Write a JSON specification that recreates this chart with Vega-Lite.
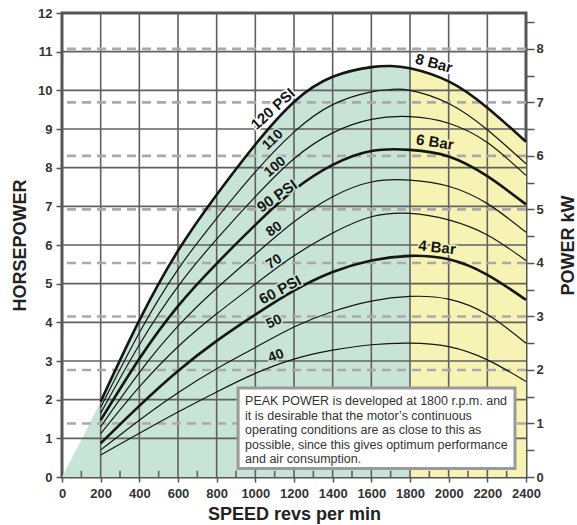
{
  "$schema": "https://vega.github.io/schema/vega-lite/v6.json",
  "width": 464,
  "height": 464,
  "autosize": {"type": "none"},
  "padding": {"left": 62, "top": 13, "right": 51, "bottom": 48},
  "background": "white",
  "config": {
    "view": {"stroke": "#555", "strokeWidth": 3},
    "font": "Liberation Sans",
    "axis": {"labelOverlap": false, "labelFlush": false, "labelBound": false}
  },
  "datasets": {
    "curves": [
      {"psi":120,"rpm":200,"hp":1.95},{"psi":120,"rpm":400,"hp":4.05},{"psi":120,"rpm":600,"hp":5.85},{"psi":120,"rpm":800,"hp":7.3},{"psi":120,"rpm":1000,"hp":8.6},{"psi":120,"rpm":1200,"hp":9.7},{"psi":120,"rpm":1400,"hp":10.35},{"psi":120,"rpm":1600,"hp":10.6},{"psi":120,"rpm":1700,"hp":10.63},{"psi":120,"rpm":1800,"hp":10.57},{"psi":120,"rpm":2000,"hp":10.23},{"psi":120,"rpm":2200,"hp":9.55},{"psi":120,"rpm":2400,"hp":8.67},
      {"psi":110,"rpm":200,"hp":1.8},{"psi":110,"rpm":400,"hp":3.73},{"psi":110,"rpm":600,"hp":5.37},{"psi":110,"rpm":800,"hp":6.69},{"psi":110,"rpm":1000,"hp":7.89},{"psi":110,"rpm":1200,"hp":8.92},{"psi":110,"rpm":1400,"hp":9.63},{"psi":110,"rpm":1600,"hp":9.96},{"psi":110,"rpm":1700,"hp":10.02},{"psi":110,"rpm":1800,"hp":10.0},{"psi":110,"rpm":2000,"hp":9.66},{"psi":110,"rpm":2200,"hp":8.98},{"psi":110,"rpm":2400,"hp":8.1},
      {"psi":100,"rpm":200,"hp":1.65},{"psi":100,"rpm":400,"hp":3.42},{"psi":100,"rpm":600,"hp":4.93},{"psi":100,"rpm":800,"hp":6.15},{"psi":100,"rpm":1000,"hp":7.25},{"psi":100,"rpm":1200,"hp":8.23},{"psi":100,"rpm":1400,"hp":8.9},{"psi":100,"rpm":1600,"hp":9.25},{"psi":100,"rpm":1800,"hp":9.32},{"psi":100,"rpm":2000,"hp":9.15},{"psi":100,"rpm":2200,"hp":8.65},{"psi":100,"rpm":2400,"hp":7.8},
      {"psi":90,"rpm":200,"hp":1.47},{"psi":90,"rpm":400,"hp":3.06},{"psi":90,"rpm":600,"hp":4.42},{"psi":90,"rpm":800,"hp":5.52},{"psi":90,"rpm":1000,"hp":6.52},{"psi":90,"rpm":1200,"hp":7.42},{"psi":90,"rpm":1400,"hp":8.07},{"psi":90,"rpm":1600,"hp":8.43},{"psi":90,"rpm":1800,"hp":8.46},{"psi":90,"rpm":2000,"hp":8.29},{"psi":90,"rpm":2200,"hp":7.78},{"psi":90,"rpm":2400,"hp":7.05},
      {"psi":80,"rpm":200,"hp":1.3},{"psi":80,"rpm":400,"hp":2.7},{"psi":80,"rpm":600,"hp":3.9},{"psi":80,"rpm":800,"hp":4.88},{"psi":80,"rpm":1000,"hp":5.76},{"psi":80,"rpm":1200,"hp":6.6},{"psi":80,"rpm":1400,"hp":7.25},{"psi":80,"rpm":1600,"hp":7.63},{"psi":80,"rpm":1800,"hp":7.68},{"psi":80,"rpm":2000,"hp":7.52},{"psi":80,"rpm":2200,"hp":7.07},{"psi":80,"rpm":2400,"hp":6.33},
      {"psi":70,"rpm":200,"hp":1.12},{"psi":70,"rpm":400,"hp":2.33},{"psi":70,"rpm":600,"hp":3.37},{"psi":70,"rpm":800,"hp":4.22},{"psi":70,"rpm":1000,"hp":4.99},{"psi":70,"rpm":1200,"hp":5.72},{"psi":70,"rpm":1400,"hp":6.31},{"psi":70,"rpm":1600,"hp":6.73},{"psi":70,"rpm":1800,"hp":6.82},{"psi":70,"rpm":2000,"hp":6.65},{"psi":70,"rpm":2200,"hp":6.26},{"psi":70,"rpm":2400,"hp":5.6},
      {"psi":60,"rpm":200,"hp":0.87},{"psi":60,"rpm":400,"hp":1.84},{"psi":60,"rpm":600,"hp":2.74},{"psi":60,"rpm":800,"hp":3.52},{"psi":60,"rpm":1000,"hp":4.2},{"psi":60,"rpm":1200,"hp":4.82},{"psi":60,"rpm":1400,"hp":5.3},{"psi":60,"rpm":1600,"hp":5.6},{"psi":60,"rpm":1800,"hp":5.72},{"psi":60,"rpm":2000,"hp":5.63},{"psi":60,"rpm":2200,"hp":5.23},{"psi":60,"rpm":2400,"hp":4.58},
      {"psi":50,"rpm":200,"hp":0.7},{"psi":50,"rpm":400,"hp":1.47},{"psi":50,"rpm":600,"hp":2.18},{"psi":50,"rpm":800,"hp":2.8},{"psi":50,"rpm":1000,"hp":3.35},{"psi":50,"rpm":1200,"hp":3.88},{"psi":50,"rpm":1400,"hp":4.28},{"psi":50,"rpm":1600,"hp":4.55},{"psi":50,"rpm":1800,"hp":4.67},{"psi":50,"rpm":2000,"hp":4.6},{"psi":50,"rpm":2200,"hp":4.2},{"psi":50,"rpm":2400,"hp":3.46},
      {"psi":40,"rpm":200,"hp":0.57},{"psi":40,"rpm":400,"hp":1.13},{"psi":40,"rpm":600,"hp":1.68},{"psi":40,"rpm":800,"hp":2.2},{"psi":40,"rpm":1000,"hp":2.68},{"psi":40,"rpm":1200,"hp":3.05},{"psi":40,"rpm":1400,"hp":3.28},{"psi":40,"rpm":1600,"hp":3.42},{"psi":40,"rpm":1800,"hp":3.46},{"psi":40,"rpm":2000,"hp":3.37},{"psi":40,"rpm":2200,"hp":3.03},{"psi":40,"rpm":2400,"hp":2.47}
    ],
    "green": [
      {"rpm":0,"hp":0},{"rpm":200,"hp":1.95},{"rpm":400,"hp":4.05},{"rpm":600,"hp":5.85},{"rpm":800,"hp":7.3},{"rpm":1000,"hp":8.6},{"rpm":1200,"hp":9.7},{"rpm":1400,"hp":10.35},{"rpm":1600,"hp":10.6},{"rpm":1700,"hp":10.63},{"rpm":1800,"hp":10.57}
    ],
    "kw": [{"kw":1},{"kw":2},{"kw":3},{"kw":4},{"kw":5},{"kw":6},{"kw":7},{"kw":8}],
    "xgrid": [{"rpm":200},{"rpm":400},{"rpm":600},{"rpm":800},{"rpm":1000},{"rpm":1200},{"rpm":1400},{"rpm":1600},{"rpm":1800},{"rpm":2000},{"rpm":2200}],
    "ygrid": [{"hp":1},{"hp":2},{"hp":3},{"hp":4},{"hp":5},{"hp":6},{"hp":7},{"hp":8},{"hp":9},{"hp":10},{"hp":11}],
    "xminor": [{"rpm":100},{"rpm":300},{"rpm":500},{"rpm":700},{"rpm":900},{"rpm":1100},{"rpm":1300},{"rpm":1500},{"rpm":1700},{"rpm":1900},{"rpm":2100},{"rpm":2300}],
    "one": [{}]
  },
  "layer": [
    {
      "layer": [
        {
          "data": {"name": "curves"},
          "transform": [{"filter": "datum.psi === 120"}],
          "mark": {"type": "area", "color": "#f6f3b4", "interpolate": "natural"},
          "encoding": {
            "x": {"field": "rpm", "type": "quantitative", "scale": {"domain": [0, 2400], "nice": false},
              "axis": {"values": [0,200,400,600,800,1000,1200,1400,1600,1800,2000,2200,2400], "tickCount": 50, "format": "d", "labelOverlap": false, "labelFlush": false, "grid": false, "domain": false,
                "title": "SPEED revs per min", "titleX": 232, "titleY": 37, "titleAlign": "center", "titleBaseline": "middle", "titleFontSize": 18, "titleFontWeight": "bold", "titleColor": "#222",
                "labelFontSize": 13, "labelFontWeight": "bold", "labelColor": "#333", "labelPadding": 5, "tickSize": 5, "tickColor": "#555", "tickWidth": 1.5}},
            "y": {"field": "hp", "type": "quantitative", "scale": {"domain": [0, 12], "nice": false},
              "axis": {"orient": "left", "values": [0,1,2,3,4,5,6,7,8,9,10,11,12], "tickCount": 50, "format": "d", "labelOverlap": false, "labelFlush": false, "grid": false, "domain": false,
                "title": "HORSEPOWER", "titleX": -42, "titleY": 232, "titleAngle": 270, "titleAlign": "center", "titleBaseline": "middle", "titleFontSize": 18, "titleFontWeight": "bold", "titleColor": "#222",
                "labelFontSize": 13, "labelFontWeight": "bold", "labelColor": "#333", "labelPadding": 4, "tickSize": 6, "tickColor": "#555", "tickWidth": 1.5}}
          }
        },
        {
          "data": {"name": "green"},
          "mark": {"type": "area", "color": "#c8e4d6", "interpolate": "natural"},
          "encoding": {"x": {"field": "rpm", "type": "quantitative"}, "y": {"field": "hp", "type": "quantitative"}}
        },
        {
          "data": {"name": "xgrid"},
          "mark": {"type": "rule", "color": "#606060", "strokeWidth": 1.6},
          "encoding": {"x": {"field": "rpm", "type": "quantitative"}}
        },
        {
          "data": {"name": "ygrid"},
          "mark": {"type": "rule", "color": "#606060", "strokeWidth": 1.6},
          "encoding": {"y": {"field": "hp", "type": "quantitative"}}
        },
        {
          "data": {"name": "xminor"},
          "mark": {"type": "rule", "color": "#606060", "strokeWidth": 1.6},
          "encoding": {"x": {"field": "rpm", "type": "quantitative"}, "y": {"datum": 0}, "y2": {"datum": 0.16}}
        }
      ]
    },
    {
      "data": {"name": "kw"},
      "mark": {"type": "rule", "color": "#aaaaaa", "strokeWidth": 2.6, "strokeDash": [9, 6]},
      "encoding": {
        "y": {"field": "kw", "type": "quantitative", "scale": {"domain": [0, 8.67], "nice": false},
          "axis": {"orient": "right", "values": [0,0.5,1,1.5,2,2.5,3,3.5,4,4.5,5,5.5,6,6.5,7,7.5,8,8.5], "tickCount": 50, "labelExpr": "datum.value % 1 === 0 ? format(datum.value, 'd') : ''", "labelOverlap": false, "labelFlush": false,
            "grid": false, "domain": false, "tickSize": 8, "tickColor": "#555", "tickWidth": 1.5, "labelPadding": 2,
            "labelFontSize": 13, "labelFontWeight": "bold", "labelColor": "#333",
            "title": "POWER kW", "titleX": 42, "titleY": 232, "titleAngle": 270, "titleAlign": "center", "titleBaseline": "middle", "titleFontSize": 18, "titleFontWeight": "bold", "titleColor": "#222"}}
      }
    },
    {
      "layer": [
        {
          "data": {"name": "curves"},
          "transform": [{"filter": "indexof([60, 90, 120], datum.psi) < 0"}],
          "mark": {"type": "line", "color": "#151515", "strokeWidth": 1.2, "interpolate": "natural"},
          "encoding": {
            "x": {"field": "rpm", "type": "quantitative"},
            "y": {"field": "hp", "type": "quantitative", "scale": {"domain": [0, 12], "nice": false}, "axis": null},
            "detail": {"field": "psi", "type": "nominal"}
          }
        },
        {
          "data": {"name": "curves"},
          "transform": [{"filter": "indexof([60, 90, 120], datum.psi) >= 0"}],
          "mark": {"type": "line", "color": "#151515", "strokeWidth": 2.6, "interpolate": "natural"},
          "encoding": {
            "x": {"field": "rpm", "type": "quantitative"},
            "y": {"field": "hp", "type": "quantitative"},
            "detail": {"field": "psi", "type": "nominal"}
          }
        },
        {"data": {"name": "one"}, "mark": {"type": "text", "text": "120 PSI", "angle": -42, "fontSize": 15, "fontWeight": "bold", "color": "white", "stroke": "white", "strokeWidth": 3}, "encoding": {"x": {"datum": 1091}, "y": {"datum": 9.52}}},
        {"data": {"name": "one"}, "mark": {"type": "text", "text": "110", "angle": -44, "fontSize": 14, "fontWeight": "bold", "color": "#c8e4d6", "stroke": "#c8e4d6", "strokeWidth": 3}, "encoding": {"x": {"datum": 1091}, "y": {"datum": 8.72}}},
        {"data": {"name": "one"}, "mark": {"type": "text", "text": "100", "angle": -40, "fontSize": 14, "fontWeight": "bold", "color": "#c8e4d6", "stroke": "#c8e4d6", "strokeWidth": 3}, "encoding": {"x": {"datum": 1102}, "y": {"datum": 8.02}}},
        {"data": {"name": "one"}, "mark": {"type": "text", "text": "90 PSI", "angle": -35, "fontSize": 15, "fontWeight": "bold", "color": "#c8e4d6", "stroke": "#c8e4d6", "strokeWidth": 3}, "encoding": {"x": {"datum": 1112}, "y": {"datum": 7.27}}},
        {"data": {"name": "one"}, "mark": {"type": "text", "text": "80", "angle": -35, "fontSize": 14, "fontWeight": "bold", "color": "#c8e4d6", "stroke": "#c8e4d6", "strokeWidth": 3}, "encoding": {"x": {"datum": 1097}, "y": {"datum": 6.41}}},
        {"data": {"name": "one"}, "mark": {"type": "text", "text": "70", "angle": -33, "fontSize": 14, "fontWeight": "bold", "color": "#c8e4d6", "stroke": "#c8e4d6", "strokeWidth": 3}, "encoding": {"x": {"datum": 1097}, "y": {"datum": 5.56}}},
        {"data": {"name": "one"}, "mark": {"type": "text", "text": "60 PSI", "angle": -28, "fontSize": 15, "fontWeight": "bold", "color": "#c8e4d6", "stroke": "#c8e4d6", "strokeWidth": 3}, "encoding": {"x": {"datum": 1128}, "y": {"datum": 4.84}}},
        {"data": {"name": "one"}, "mark": {"type": "text", "text": "50", "angle": -25, "fontSize": 14, "fontWeight": "bold", "color": "#c8e4d6", "stroke": "#c8e4d6", "strokeWidth": 3}, "encoding": {"x": {"datum": 1097}, "y": {"datum": 4.01}}},
        {"data": {"name": "one"}, "mark": {"type": "text", "text": "40", "angle": -20, "fontSize": 14, "fontWeight": "bold", "color": "#c8e4d6", "stroke": "#c8e4d6", "strokeWidth": 3}, "encoding": {"x": {"datum": 1107}, "y": {"datum": 3.13}}},
        {"data": {"name": "one"}, "mark": {"type": "text", "text": "8 Bar", "angle": 15, "fontSize": 15, "fontWeight": "bold", "color": "white", "stroke": "white", "strokeWidth": 3}, "encoding": {"x": {"datum": 1924}, "y": {"datum": 10.7}}},
        {"data": {"name": "one"}, "mark": {"type": "text", "text": "6 Bar", "angle": 9, "fontSize": 15, "fontWeight": "bold", "color": "#f6f3b4", "stroke": "#f6f3b4", "strokeWidth": 3}, "encoding": {"x": {"datum": 1929}, "y": {"datum": 8.66}}},
        {"data": {"name": "one"}, "mark": {"type": "text", "text": "4 Bar", "angle": 6, "fontSize": 15, "fontWeight": "bold", "color": "#f6f3b4", "stroke": "#f6f3b4", "strokeWidth": 3}, "encoding": {"x": {"datum": 1940}, "y": {"datum": 5.94}}},
        {"data": {"name": "one"}, "mark": {"type": "text", "text": "120 PSI", "angle": -42, "fontSize": 15, "fontWeight": "bold", "color": "#151515"}, "encoding": {"x": {"datum": 1091}, "y": {"datum": 9.52}}},
        {"data": {"name": "one"}, "mark": {"type": "text", "text": "110", "angle": -44, "fontSize": 14, "fontWeight": "bold", "color": "#151515"}, "encoding": {"x": {"datum": 1091}, "y": {"datum": 8.72}}},
        {"data": {"name": "one"}, "mark": {"type": "text", "text": "100", "angle": -40, "fontSize": 14, "fontWeight": "bold", "color": "#151515"}, "encoding": {"x": {"datum": 1102}, "y": {"datum": 8.02}}},
        {"data": {"name": "one"}, "mark": {"type": "text", "text": "90 PSI", "angle": -35, "fontSize": 15, "fontWeight": "bold", "color": "#151515"}, "encoding": {"x": {"datum": 1112}, "y": {"datum": 7.27}}},
        {"data": {"name": "one"}, "mark": {"type": "text", "text": "80", "angle": -35, "fontSize": 14, "fontWeight": "bold", "color": "#151515"}, "encoding": {"x": {"datum": 1097}, "y": {"datum": 6.41}}},
        {"data": {"name": "one"}, "mark": {"type": "text", "text": "70", "angle": -33, "fontSize": 14, "fontWeight": "bold", "color": "#151515"}, "encoding": {"x": {"datum": 1097}, "y": {"datum": 5.56}}},
        {"data": {"name": "one"}, "mark": {"type": "text", "text": "60 PSI", "angle": -28, "fontSize": 15, "fontWeight": "bold", "color": "#151515"}, "encoding": {"x": {"datum": 1128}, "y": {"datum": 4.84}}},
        {"data": {"name": "one"}, "mark": {"type": "text", "text": "50", "angle": -25, "fontSize": 14, "fontWeight": "bold", "color": "#151515"}, "encoding": {"x": {"datum": 1097}, "y": {"datum": 4.01}}},
        {"data": {"name": "one"}, "mark": {"type": "text", "text": "40", "angle": -20, "fontSize": 14, "fontWeight": "bold", "color": "#151515"}, "encoding": {"x": {"datum": 1107}, "y": {"datum": 3.13}}},
        {"data": {"name": "one"}, "mark": {"type": "text", "text": "8 Bar", "angle": 15, "fontSize": 15, "fontWeight": "bold", "color": "#151515"}, "encoding": {"x": {"datum": 1924}, "y": {"datum": 10.7}}},
        {"data": {"name": "one"}, "mark": {"type": "text", "text": "6 Bar", "angle": 9, "fontSize": 15, "fontWeight": "bold", "color": "#151515"}, "encoding": {"x": {"datum": 1929}, "y": {"datum": 8.66}}},
        {"data": {"name": "one"}, "mark": {"type": "text", "text": "4 Bar", "angle": 6, "fontSize": 15, "fontWeight": "bold", "color": "#151515"}, "encoding": {"x": {"datum": 1940}, "y": {"datum": 5.94}}},
        {
          "data": {"name": "one"},
          "mark": {"type": "rect", "fill": "white", "stroke": "#9a9a9a", "strokeWidth": 3},
          "encoding": {"x": {"datum": 911}, "x2": {"datum": 2343}, "y": {"datum": 0.22}, "y2": {"datum": 2.3}}
        },
        {
          "data": {"name": "one"},
          "mark": {"type": "text", "align": "left", "baseline": "alphabetic", "fontSize": 12.5, "lineHeight": 14.5, "color": "#333",
            "text": ["PEAK POWER is developed at 1800 r.p.m. and", "it is desirable that the motor’s continuous", "operating conditions are as close to this as", "possible, since this gives optimum performance", "and air consumption."]},
          "encoding": {"x": {"datum": 947}, "y": {"datum": 1.86}}
        }
      ]
    }
  ],
  "resolve": {"scale": {"y": "independent"}}
}
